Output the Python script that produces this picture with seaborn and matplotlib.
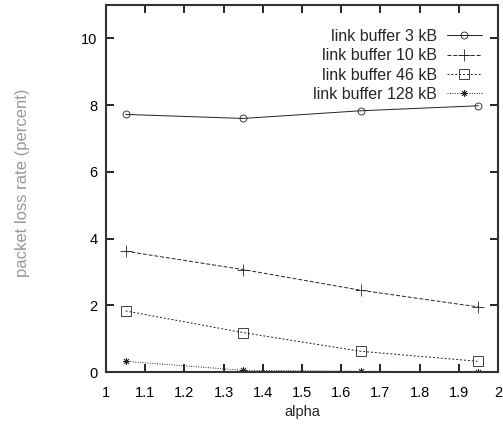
import matplotlib
matplotlib.use("Agg")
import matplotlib.pyplot as plt
import seaborn as sns
import pandas as pd

alpha = [1.05, 1.35, 1.65, 1.95]
loss_3kb = [7.72, 7.60, 7.83, 7.98]
loss_10kb = [3.62, 3.07, 2.45, 1.95]
loss_46kb = [1.83, 1.18, 0.62, 0.32]
loss_128kb = [0.32, 0.05, 0.02, 0.01]

labels = ["link buffer 3 kB", "link buffer 10 kB", "link buffer 46 kB", "link buffer 128 kB"]
series = [loss_3kb, loss_10kb, loss_46kb, loss_128kb]

sns.set_style("ticks")
plt.rcParams["font.family"] = ["Liberation Sans", "DejaVu Sans"]

fig = plt.figure(figsize=(5.03, 4.25), dpi=100)
ax = fig.add_axes([106 / 503, 1 - 372 / 425, (498 - 106) / 503, (372 - 5) / 425])

styles = [
    dict(marker="o", linestyle="-", markersize=5, markerfacecolor="none"),
    dict(marker="+", linestyle=(0, (4, 2)), markersize=8, markerfacecolor="none"),
    dict(marker="s", linestyle=(0, (2, 2)), markersize=7, markerfacecolor="none"),
    dict(marker=(8, 2, 0), linestyle=(0, (1, 1.5)), markersize=5, markerfacecolor="none"),
]

for lab, vals, st in zip(labels, series, styles):
    df = pd.DataFrame({"alpha": alpha, "loss": vals})
    sns.lineplot(data=df, x="alpha", y="loss", ax=ax, label=lab, color="#222222",
                 linewidth=0.7, markeredgecolor="#222222", markeredgewidth=0.6, **st)

ax.set_xlim(1, 2)
ax.set_ylim(0, 11)
ax.set_xticks([1 + 0.1 * i for i in range(11)])
ax.set_xticklabels(["1", "1.1", "1.2", "1.3", "1.4", "1.5", "1.6", "1.7", "1.8", "1.9", "2"])
ax.set_yticks([0, 2, 4, 6, 8, 10])
ax.tick_params(direction="in", top=True, right=True, length=6, width=1.2,
               labelsize=10.5, colors="black", pad=6)
ax.tick_params(axis="x", pad=10)
for sp in ax.spines.values():
    sp.set_linewidth(1.5)
    sp.set_color("#333333")

ax.set_xlabel("alpha", fontsize=10.5, labelpad=4)
ax.set_ylabel("packet loss rate (percent)", fontsize=12, color="#999999")
ax.yaxis.set_label_coords(-0.194, 0.515)

leg = ax.legend(loc="upper right", bbox_to_anchor=(0.987, 0.965), frameon=False,
                markerfirst=False, fontsize=11.5, handlelength=2.2, handletextpad=0.6,
                labelspacing=0.27, borderaxespad=0.3)

fig.savefig("out.png", dpi=100)
